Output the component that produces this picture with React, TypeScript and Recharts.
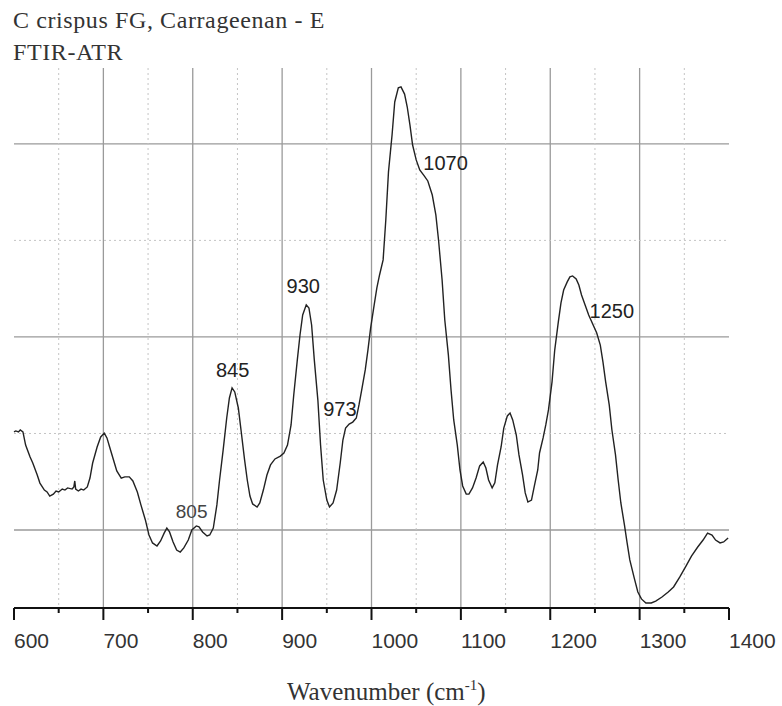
import React from 'react';
import {
  LineChart,
  Line,
  XAxis,
  YAxis,
  CartesianGrid,
  ReferenceDot,
} from 'recharts';

// wavenumber (cm-1)
const wavenumbers = [
  600, 602, 605, 607, 610, 613, 618, 621, 626, 629,
  634, 637, 640, 644, 647, 650, 654, 657, 660, 665,
  667, 668, 669, 672, 675, 678, 682, 685, 688, 693,
  697, 701, 704, 707, 712, 715, 720, 724, 729, 733,
  738, 742, 747, 751, 755, 760, 764, 768, 771, 774,
  778, 782, 786, 790, 795, 799, 804, 807, 811, 816,
  819, 823, 827, 830, 834, 838, 841, 844, 847, 851,
  854, 858, 861, 864, 867, 872, 875, 879, 883, 887,
  892, 898, 902, 906, 910, 913, 917, 920, 923, 927,
  930, 933, 936, 940, 943, 946, 950, 953, 957, 961,
  965, 968, 971, 975, 979, 983, 986, 989, 993, 996,
  999, 1003, 1006, 1009, 1013, 1016, 1019, 1023, 1026, 1030,
  1033, 1037, 1040, 1043, 1046, 1050, 1054, 1059, 1063, 1068,
  1072, 1075, 1079, 1082, 1086, 1089, 1092, 1096, 1099, 1102,
  1106, 1109, 1113, 1117, 1121, 1125, 1128, 1131, 1135, 1138,
  1141, 1145, 1148, 1152, 1155, 1158, 1162, 1165, 1169, 1172,
  1175, 1179, 1182, 1186, 1188, 1192, 1195, 1198, 1202, 1205,
  1209, 1212, 1215, 1219, 1222, 1225, 1229, 1232, 1235, 1239,
  1243, 1248, 1252, 1256, 1259, 1262, 1266, 1269, 1273, 1276,
  1279, 1283, 1286, 1289, 1294, 1298, 1302, 1307, 1313, 1318,
  1325, 1332, 1338, 1345, 1352, 1358, 1365, 1371, 1376, 1381,
  1385, 1390, 1394, 1399,
];

// absorbance (arbitrary units, no y labels in the original)
const absorbance = [
  0.1508, 0.1513, 0.1508, 0.1518, 0.1508, 0.144, 0.1378, 0.1347, 0.1285, 0.1243,
  0.1207, 0.1197, 0.1176, 0.1186, 0.1202, 0.1197, 0.1212, 0.1207, 0.1218, 0.1212,
  0.1223, 0.1254, 0.1212, 0.1202, 0.1212, 0.1207, 0.1223, 0.1269, 0.1347, 0.143,
  0.1482, 0.1502, 0.1477, 0.143, 0.1352, 0.1306, 0.1269, 0.1275, 0.1275, 0.1254,
  0.1197, 0.113, 0.1052, 0.0974, 0.0933, 0.0917, 0.0943, 0.0984, 0.101, 0.099,
  0.0938, 0.0896, 0.0886, 0.0907, 0.0948, 0.1, 0.1021, 0.1016, 0.099, 0.0969,
  0.0974, 0.101, 0.113, 0.1259, 0.1414, 0.158, 0.1684, 0.1736, 0.1715, 0.1632,
  0.1518, 0.1363, 0.1259, 0.1176, 0.1135, 0.1119, 0.114, 0.1207, 0.1285, 0.1337,
  0.1368, 0.1383, 0.1399, 0.144, 0.1544, 0.1699, 0.1881, 0.201, 0.2114, 0.2166,
  0.215, 0.2062, 0.1881, 0.1673, 0.144, 0.1259, 0.1155, 0.1119, 0.114, 0.1207,
  0.1347, 0.1466, 0.1528, 0.1549, 0.1559, 0.158, 0.1648, 0.1725, 0.1829, 0.1932,
  0.2046, 0.2166, 0.2254, 0.2321, 0.2399, 0.2606, 0.2855, 0.3046, 0.3217, 0.329,
  0.3295, 0.3258, 0.3191, 0.3098, 0.2994, 0.2917, 0.2865, 0.2834, 0.2808, 0.2735,
  0.2632, 0.2502, 0.2295, 0.2088, 0.1907, 0.1725, 0.157, 0.144, 0.1311, 0.1228,
  0.1186, 0.1186, 0.1218, 0.1269, 0.1332, 0.1352, 0.1321, 0.1259, 0.1218, 0.1244,
  0.1337, 0.143, 0.1528, 0.1591, 0.1606, 0.157, 0.1492, 0.1389, 0.1285, 0.1192,
  0.1145, 0.1155, 0.1223, 0.1311, 0.1399, 0.1477, 0.1544, 0.1622, 0.1767, 0.1932,
  0.2077, 0.2176, 0.2243, 0.2285, 0.2311, 0.2316, 0.23, 0.2269, 0.2217, 0.2166,
  0.2114, 0.2062, 0.202, 0.1958, 0.187, 0.1767, 0.1648, 0.1518, 0.1389, 0.1259,
  0.114, 0.1026, 0.0933, 0.0845, 0.0751, 0.0679, 0.0643, 0.0622, 0.0622, 0.0632,
  0.0653, 0.0679, 0.0705, 0.0757, 0.0814, 0.0865, 0.0912, 0.0948, 0.0984, 0.0974,
  0.0948, 0.0933, 0.0938, 0.0959,
];

const xTicks = [600, 650, 700, 750, 800, 850, 900, 950, 1000, 1050, 1100, 1150, 1200, 1250, 1300, 1350, 1400];
const majorX = [700, 800, 900, 1000, 1100, 1200, 1300];
const minorX = [650, 750, 850, 950, 1050, 1150, 1250, 1350];
const majorY = [0.1, 0.2, 0.3];
const minorY = [0.15, 0.25];

// band assignments written next to the peaks
const bandLabels = ['805', '845', '930', '973', '1070', '1250'];
const bandLabelX = [781, 826, 905, 946, 1058, 1244];
const bandLabelY = [0.1062, 0.1793, 0.2228, 0.1591, 0.2865, 0.2098];

const titleLines = ['C crispus FG, Carrageenan - E', 'FTIR-ATR'];

const data = wavenumbers.map((w, i) => ({ w, a: absorbance[i] }));

const SANS = '"Liberation Sans", Arial, sans-serif';
const SERIF = '"Liberation Serif", "Times New Roman", serif';

const AxisTick = ({ x, y, payload }: any) => {
  const major = payload.value % 100 === 0;
  return (
    <g>
      <line x1={x} x2={x} y1={y} y2={y + (major ? 12 : 5)} stroke="#111" strokeWidth={2} />
      {major && (
        <text x={x} y={y + 40} textAnchor="start" fontSize={21} fill="#333" fontFamily={SANS}>
          {payload.value}
        </text>
      )}
    </g>
  );
};

const AxisTitle = ({ viewBox }: any) => {
  const { x, y } = viewBox;
  return (
    <text x={x + 273} y={y + 92} fontSize={25} fill="#333" fontFamily={SERIF}>
      Wavenumber (cm
      <tspan dy={-10} fontSize={15}>-1</tspan>
      <tspan dy={10}>)</tspan>
    </text>
  );
};

export default function App() {
  return (
    <div style={{ position: 'absolute', left: 0, top: 0, width: 782, height: 706, background: '#fff' }}>
      <svg width={782} height={70} style={{ position: 'absolute', left: 0, top: 0 }}>
        {titleLines.map((t, i) => (
          <text key={t} x={13} y={28 + i * 32} fontSize={24} letterSpacing={0.6} fill="#333" fontFamily={SERIF}>
            {t}
          </text>
        ))}
      </svg>
      <LineChart
        width={782}
        height={706}
        data={data}
        margin={{ top: 68, right: 53, left: 14, bottom: 0 }}
        style={{ position: 'absolute', left: 0, top: 0 }}
      >
        <CartesianGrid horizontalValues={majorY} verticalValues={majorX} stroke="#9a9a9a" strokeWidth={1.3} />
        <CartesianGrid horizontalValues={minorY} verticalValues={minorX} stroke="#c4c4c4" strokeDasharray="2 3" />
        <XAxis
          dataKey="w"
          type="number"
          domain={[600, 1400]}
          ticks={xTicks}
          interval={0}
          height={98}
          tickSize={0}
          tickMargin={0}
          tickLine={false}
          axisLine={{ stroke: '#111', strokeWidth: 2 }}
          tick={<AxisTick />}
          label={<AxisTitle />}
        />
        <YAxis hide type="number" domain={[0.0596, 0.3393]} allowDataOverflow />
        <Line
          type="linear"
          dataKey="a"
          stroke="#222"
          strokeWidth={1.4}
          dot={false}
          isAnimationActive={false}
        />
        {bandLabels.map((t, i) => (
          <ReferenceDot
            key={t}
            x={bandLabelX[i]}
            y={bandLabelY[i]}
            r={0}
            shape={(p: any) => (
              <text
                x={p.cx}
                y={p.cy}
                fontSize={t === '805' ? 19 : 20}
                fill={t === '805' ? '#444' : '#222'}
                fontFamily={SANS}
              >
                {t}
              </text>
            )}
          />
        ))}
      </LineChart>
    </div>
  );
}
